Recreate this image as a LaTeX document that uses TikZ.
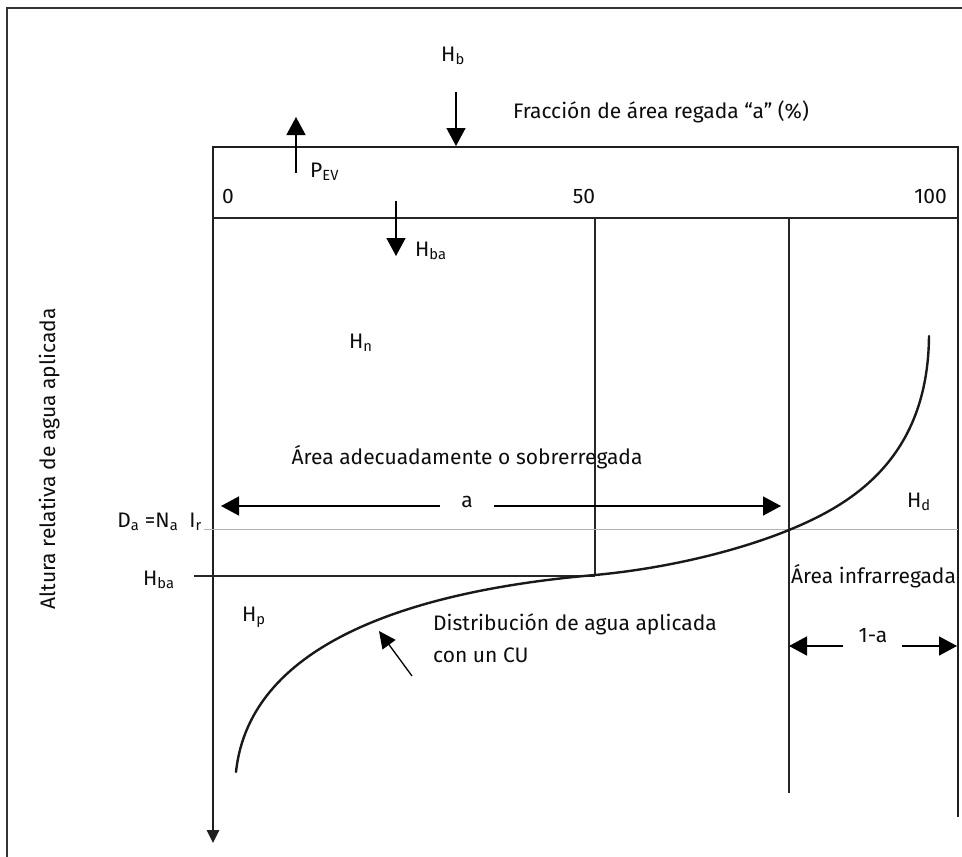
\documentclass[tikz,border=0pt]{standalone}
\usepackage{fontspec}
\setmainfont{Fira Sans}
\usetikzlibrary{arrows.meta}
\tikzset{
  lbl/.style={inner sep=0pt, font=\fontsize{21}{32}\selectfont, text=black!95},
  bigarr/.style={line width=1.5pt, -{Triangle[width=19pt,length=18pt]}},
  midarr/.style={line width=1.3pt, -{Triangle[width=16pt,length=17pt]}},
  thinln/.style={line width=1.1pt, black!85},
  heavy/.style={line width=2.6pt, black!88},
}
\begin{document}
\begin{tikzpicture}[x=1pt,y=-1pt]
\useasboundingbox (0,0) rectangle (962,857);
% outer frame
\draw[line width=1.2pt, black!80] (7,860) -- (7,8) -- (965,8);

% coordinates
\coordinate (tl) at (213,147);
\coordinate (tr) at (958,147);
\coordinate (br) at (958,817);
\coordinate (axend) at (213,843);
\coordinate (gl) at (213,218);
\coordinate (gr) at (958,218);
\coordinate (v50t) at (595,218);
\coordinate (v50b) at (595,576);
\coordinate (vat) at (789,218);
\coordinate (vab) at (789,793);
\coordinate (hbal) at (194,576);
\coordinate (dal) at (204,529);
\coordinate (dar) at (958,529);

% main frame
\draw[heavy, -{Triangle[width=12pt,length=13pt]}] (br) -- (tr) -- (tl) -- (axend);
\draw[thinln] (gl) -- (gr);
\draw[thinln] (v50t) -- (v50b);
\draw[thinln] (vat) -- (vab);
\draw[thinln] (hbal) -- (v50b);
\draw[line width=1pt, black!30] (dal) -- (dar);

% labels
\node[lbl, anchor=base west] (frac) at (513,118) {Fracción de área regada “a” (\%)};
\node[lbl, anchor=base] (hb) at (453,61) {H\textsubscript{b}};
\node[lbl, anchor=base west] (pev) at (310,177) {P\textsubscript{EV}};
\node[lbl, anchor=base] (t0) at (228,203) {0};
\node[lbl, anchor=base] (t50) at (584,203) {50};
\node[lbl, anchor=base east] (t100) at (947,203) {100};
\node[lbl, anchor=base west] (hbat) at (415,256) {H\textsubscript{ba}};
\node[lbl, anchor=base west] (hn) at (349,348) {H\textsubscript{n}};
\node[lbl, anchor=base] (adec) at (467,464) {Área adecuadamente o sobrerregada};
\node[lbl, anchor=base] (alab) at (467,507) {a};
\node[lbl, anchor=base east] (da) at (202,527) {D\textsubscript{a} =N\textsubscript{a}\ \ I\textsubscript{r}};
\node[lbl, anchor=base west] (hbal2) at (143,585) {H\textsubscript{ba}};
\node[lbl, anchor=base west] (hp) at (242,621) {H\textsubscript{p}};
\node[lbl, anchor=base west] (hd) at (907,507) {H\textsubscript{d}};
\node[lbl, anchor=base west] (infra) at (791,583) {Área infrarregada};
\node[lbl, anchor=base] (oma) at (873,642) {1-a};
\node[lbl, anchor=base west, align=left] (dist) at (433,662) {Distribución de agua aplicada\\con un CU};
\node[lbl, anchor=base, rotate=90] (alt) at (55,459) {Altura relativa de agua aplicada};

% arrows
\coordinate (hbs) at (456,92);
\coordinate (hbe) at (456,146);
\draw[bigarr] (hbs) -- (hbe);
\coordinate (pevs) at (296,173);
\coordinate (peve) at (296,117);
\draw[bigarr] (pevs) -- (peve);
\coordinate (hbas) at (396,201);
\coordinate (hbae) at (396,256);
\draw[bigarr] (hbas) -- (hbae);
\coordinate (aLs) at (440,506);
\coordinate (aLe) at (221,506);
\coordinate (aRs) at (494,506);
\coordinate (aRe) at (781,506);
\draw[bigarr] (aLs) -- (aLe);
\draw[bigarr] (aRs) -- (aRe);
\coordinate (oLs) at (843,646);
\coordinate (oLe) at (789,646);
\coordinate (oRs) at (902,646);
\coordinate (oRe) at (957,646);
\draw[bigarr] (oLs) -- (oLe);
\draw[bigarr] (oRs) -- (oRe);
\coordinate (ps) at (412,676);
\coordinate (pe) at (379,631);
\draw[midarr] (ps) -- (pe);

% distribution curve
\coordinate (c0) at (236,772);
\coordinate (c1) at (595,575);
\coordinate (c2) at (789,530);
\coordinate (c3) at (929,336);
\draw[line width=2.4pt, black!90, line cap=round]
  (c0) .. controls (250,640) and (420,590) .. (c1)
       .. controls (670,568) and (740,550) .. (c2)
       .. controls (850,505) and (928,460) .. (c3);
\end{tikzpicture}
\end{document}
